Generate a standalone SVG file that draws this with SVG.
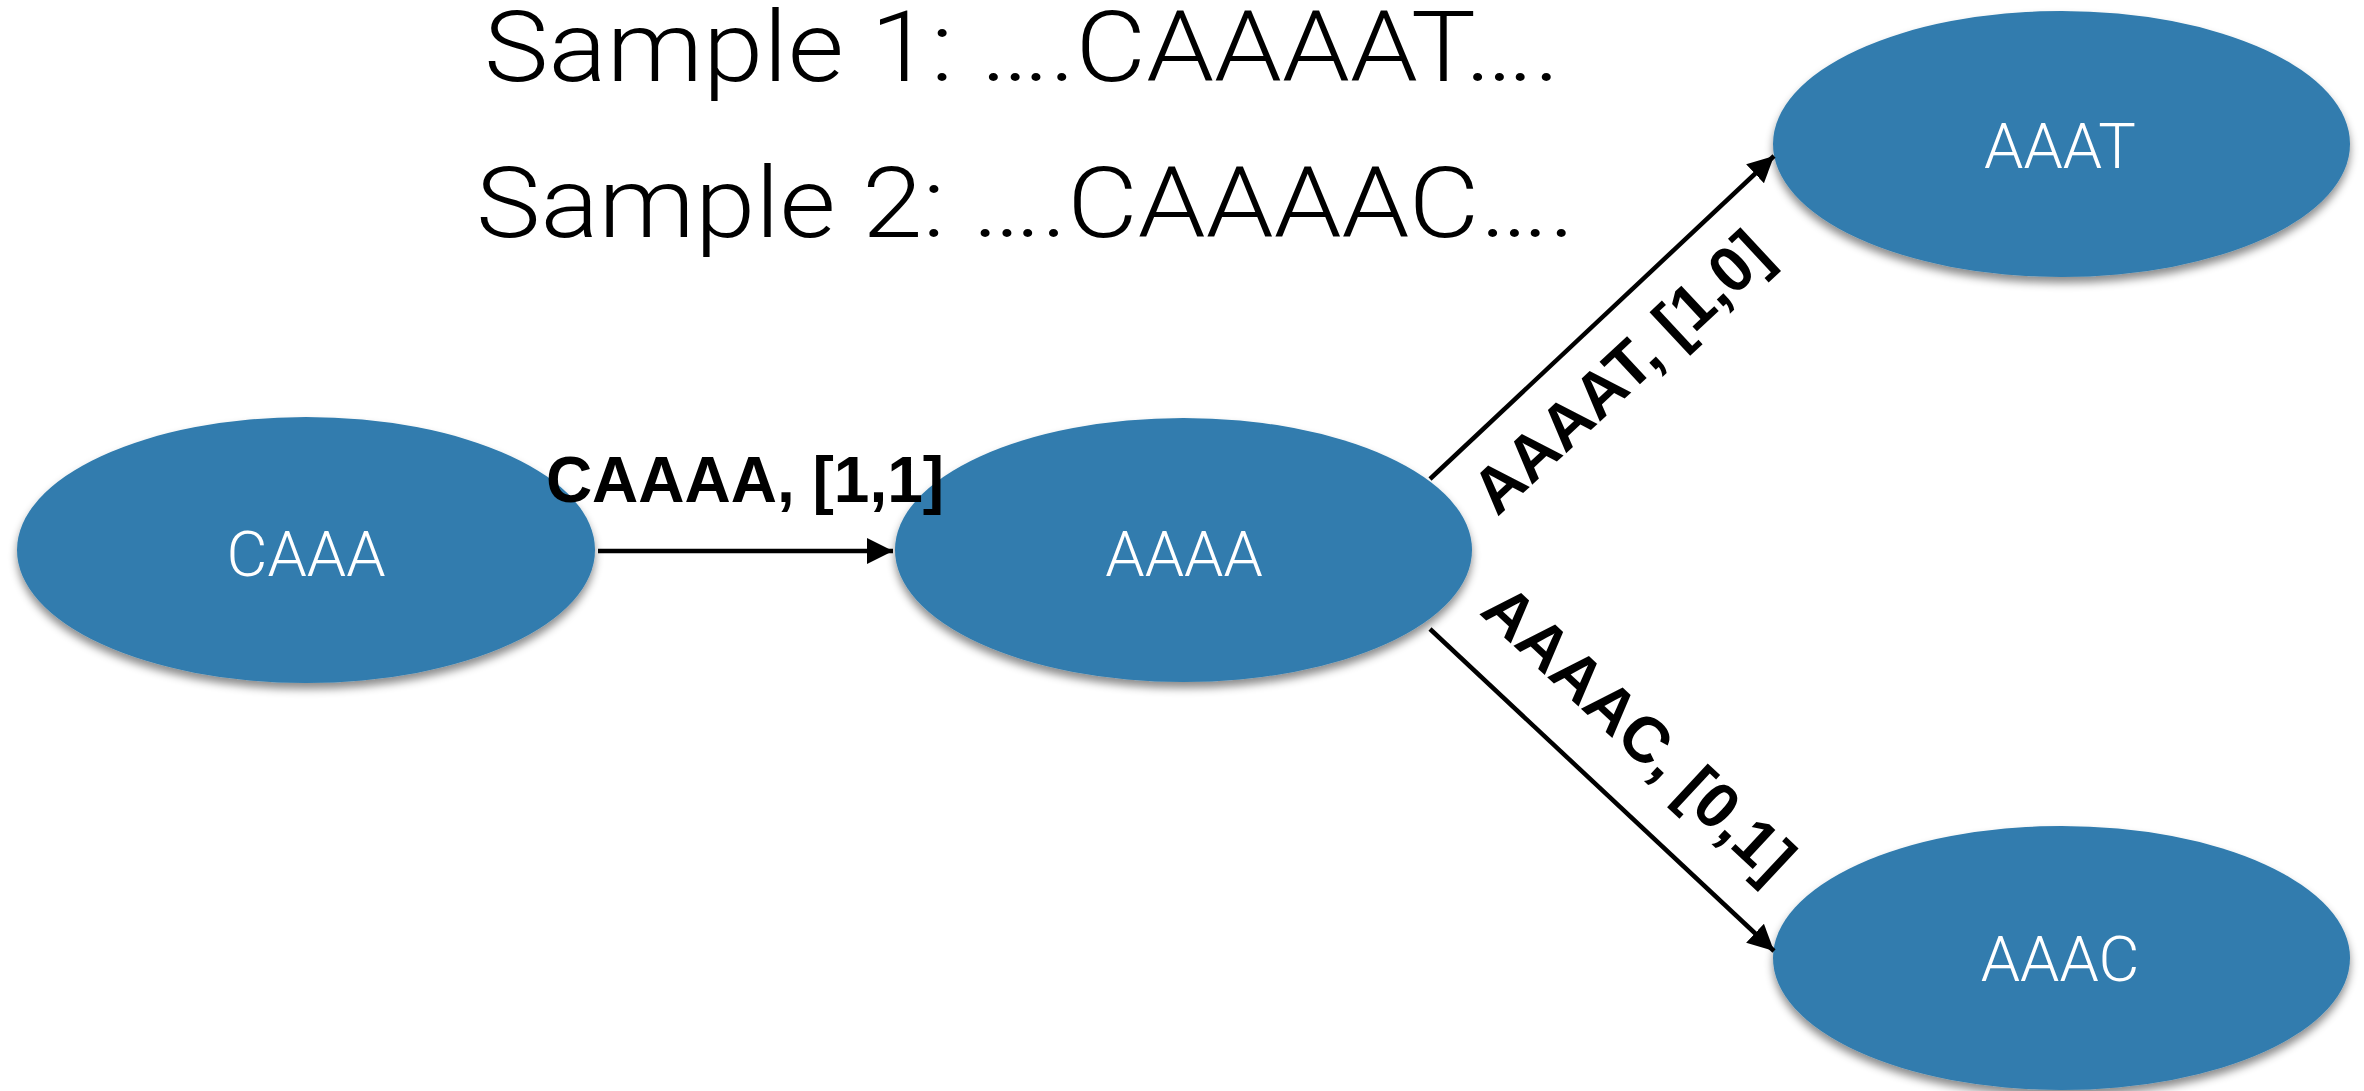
<svg xmlns="http://www.w3.org/2000/svg" width="2364" height="1091" viewBox="0 0 2364 1091">
  <defs>
    <filter id="shadow" x="-10%" y="-10%" width="120%" height="130%">
      <feDropShadow dx="0" dy="6" stdDeviation="4" flood-color="#000" flood-opacity="0.45"/>
    </filter>
    <marker id="arrow" markerUnits="userSpaceOnUse" markerWidth="26" markerHeight="26" refX="26" refY="13" orient="auto">
      <path d="M0,0 L26,13 L0,26 z" fill="#000"/>
    </marker>
    <style>
      .node { fill: #307cae; filter: url(#shadow); }
      .node-label { font-family: Roboto, "Liberation Sans", sans-serif; font-weight: 300; font-size: 63px; fill: #fff; text-anchor: middle; }
      .title { font-family: Roboto, "Liberation Sans", sans-serif; font-weight: 300; font-size: 98px; fill: #000; }
      .edge { stroke: #000; stroke-width: 4.5; fill: none; marker-end: url(#arrow); }
      .edge-label { font-family: "Liberation Sans", Arial, sans-serif; font-weight: bold; font-size: 64px; fill: #000; text-anchor: middle; }
    </style>
  </defs>
  <rect width="2364" height="1091" fill="#fff"/>

  <!-- sample sequences -->
  <g id="samples">
    <text class="title" x="484" y="81" textLength="1076" lengthAdjust="spacingAndGlyphs">Sample 1: ….CAAAAT….</text>
    <text class="title" x="476" y="237" textLength="1099" lengthAdjust="spacingAndGlyphs">Sample 2: ….CAAAAC….</text>
  </g>

  <!-- nodes -->
  <g id="node-CAAA">
    <ellipse class="node" cx="306" cy="550" rx="289" ry="133"/>
    <text class="node-label" x="306" y="576">CAAA</text>
  </g>
  <g id="node-AAAA">
    <ellipse class="node" cx="1183.5" cy="550" rx="288.5" ry="132"/>
    <text class="node-label" x="1184" y="576">AAAA</text>
  </g>
  <g id="node-AAAT">
    <ellipse class="node" cx="2061.5" cy="144" rx="288.5" ry="133"/>
    <text class="node-label" x="2060" y="168">AAAT</text>
  </g>
  <g id="node-AAAC">
    <ellipse class="node" cx="2061.5" cy="958" rx="288.5" ry="132"/>
    <text class="node-label" x="2060" y="981">AAAC</text>
  </g>

  <!-- connectors, drawn above the nodes so their labels stay visible -->
  <g id="connectors">
    <line class="edge" x1="598" y1="551" x2="893" y2="551"/>
    <line class="edge" x1="1430" y1="479" x2="1774" y2="156"/>
    <line class="edge" x1="1430" y1="629" x2="1774" y2="951"/>
    <text class="edge-label" x="745" y="502" font-size="65">CAAAA, [1,1]</text>
    <text class="edge-label" transform="translate(1636,388) rotate(-43)">AAAAT, [1,0]</text>
    <text class="edge-label" transform="translate(1624,749) rotate(43)">AAAAC, [0,1]</text>
  </g>
</svg>
